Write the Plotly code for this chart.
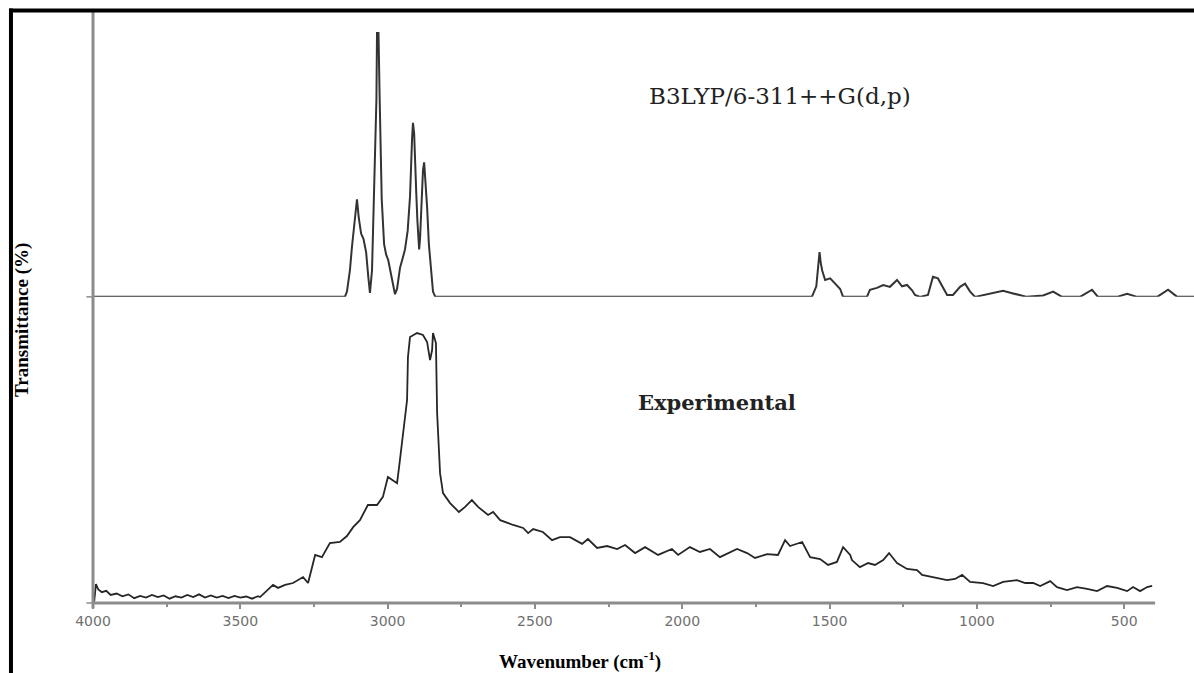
import plotly.graph_objects as go

# Calculated (B3LYP/6-311++G(d,p)) spectrum: wavenumber (cm-1) and relative intensity
calc_wn = [4000, 3160, 3145, 3138, 3128, 3121, 3112, 3104, 3098, 3090, 3082, 3073, 3066, 3060,
           3053, 3050, 3043, 3038, 3036, 3031, 3027, 3020, 3012, 3005, 2998, 2990, 2982, 2975,
           2968, 2958, 2948, 2941, 2932, 2924, 2917, 2914, 2910, 2907, 2903, 2899, 2893, 2890,
           2886, 2880, 2876, 2872, 2866, 2860, 2853, 2846, 2838,
           1560, 1545, 1539, 1534, 1530, 1525, 1515, 1498, 1481, 1464, 1454,
           1373, 1363, 1339, 1318, 1295, 1271, 1254, 1237, 1220, 1210, 1193,
           1166, 1149, 1132, 1115, 1101, 1081, 1057, 1040, 1023, 1006,
           945, 911, 877, 830, 775, 741, 711, 650, 609, 589, 524, 490, 456, 388, 351, 320, 263]
calc_int = [0, 0, 0, 2, 10, 19, 30, 37, 30, 24, 22, 17, 8, 1.5,
            10, 24, 55, 75, 100, 100, 75, 37, 20, 16, 14, 9, 4, 1,
            3, 11, 15, 18, 25, 38, 60, 66, 62, 55, 40, 29, 18, 22,
            34, 48, 51, 45, 34, 20, 9, 2, 0,
            0, 4, 11, 17, 13, 10, 6.4, 7, 5, 3, 0,
            0, 2.7, 3.4, 4.5, 3.8, 6.4, 4, 4.5, 2.5, 0.7, 0,
            0.7, 7.6, 7, 3.8, 0.7, 0.7, 3.8, 5, 2, 0,
            1.5, 2.3, 1.3, 0, 0.5, 2, 0, 0, 2.7, 0, 0, 1.2, 0, 0, 2.7, 0, 0]

# Experimental spectrum: wavenumber (cm-1) and relative transmittance
exp_wn = [3996, 3990, 3982, 3970, 3955, 3940, 3920, 3900, 3880, 3860, 3840, 3820, 3800, 3780,
          3760, 3740, 3720, 3700, 3680, 3660, 3640, 3620, 3600, 3580, 3560, 3540, 3520, 3500,
          3480, 3460, 3440, 3433, 3389, 3372, 3348, 3321, 3287, 3270, 3246, 3223, 3196, 3162,
          3138, 3117, 3094, 3067, 3036, 3016, 2999, 2982, 2968, 2961, 2951, 2941, 2934, 2931,
          2924, 2900, 2880, 2866, 2856, 2849, 2846, 2836, 2832, 2822, 2812, 2788, 2758, 2737,
          2714, 2693, 2659, 2642, 2618, 2574, 2540, 2523, 2506, 2473, 2442, 2415, 2381, 2340,
          2320, 2289, 2255, 2221, 2194, 2160, 2126, 2082, 2035, 2014, 1974, 1940, 1906, 1872,
          1814, 1780, 1753, 1712, 1675, 1651, 1634, 1593, 1566, 1532, 1505, 1475, 1454, 1430,
          1424, 1397, 1369, 1346, 1318, 1298, 1271, 1237, 1203, 1186, 1149, 1101, 1074, 1050,
          1023, 979, 945, 911, 864, 836, 809, 785, 751, 728, 694, 660, 626, 592, 558, 524,
          490, 470, 446, 422, 405]
exp_val = [0.5, 7, 5, 4, 4.5, 3, 3.5, 2.5, 3.2, 1.8, 2.6, 2, 3, 2.2,
           2.8, 1.6, 2.5, 2, 3, 2.2, 3.2, 2, 2.8, 2, 2.6, 1.8, 2.6, 2,
           2.4, 1.6, 2.5, 2.2, 6.7, 5.6, 6.7, 7.4, 9.6, 7.4, 17.8, 17, 22.2, 22.6,
           24.8, 28.1, 30.7, 36.3, 36.3, 39.3, 46.7, 45.6, 44.4, 50.4, 59.3, 66.7, 75.2, 91.1,
           98.5, 100, 99.3, 96.7, 90, 93.7, 100, 96.3, 70.4, 48.1, 40.7, 37, 33.7, 35.6,
           38.1, 35.6, 32.6, 33.7, 30.7, 28.9, 27.8, 25.9, 27.4, 26.3, 23.3, 24.4, 24.4, 21.9,
           23.7, 20.4, 21.1, 20, 21.5, 18.5, 20.7, 17.8, 20, 17.8, 20.7, 18.9, 20, 17,
           20, 18.5, 16.7, 18.1, 17.8, 23.3, 21.1, 22.6, 17, 16.3, 14.1, 15.2, 20.7, 17.8,
           15.9, 13.3, 14.8, 14.1, 15.9, 18.5, 14.8, 12.6, 12.2, 10.4, 9.6, 8.5, 8.9, 10.4,
           7.8, 7.4, 6.3, 7.8, 8.5, 7.4, 7.4, 6.3, 8.1, 5.9, 4.8, 5.9, 5.2, 4.4, 6.3, 5.6,
           4.4, 5.9, 4.4, 5.9, 6.3]

tick_vals = [4000, 3500, 3000, 2500, 2000, 1500, 1000, 500]
tick_text = ["4000", "3500", "3000", "2500", "2000", "1500", "1000", "500"]

fig = go.Figure()
fig.add_trace(go.Scatter(x=calc_wn, y=calc_int, mode="lines", yaxis="y2",
                         line=dict(color="#333333", width=2), showlegend=False))
fig.add_trace(go.Scatter(x=exp_wn, y=exp_val, mode="lines", yaxis="y",
                         line=dict(color="#262626", width=1.8), showlegend=False))

axis_gray = "#8c8c8c"
fig.update_layout(
    width=1194, height=673,
    margin=dict(l=93, r=0, t=12, b=70),
    paper_bgcolor="white", plot_bgcolor="white",
    xaxis=dict(range=[4000, 263], showgrid=False, zeroline=False, showline=False,
               tickvals=tick_vals, ticktext=tick_text, ticks="outside", ticklen=5,
               tickwidth=2, tickcolor=axis_gray,
               minor=dict(tickvals=[3750, 3250, 2750, 2250, 1750, 1250, 750],
                          ticks="outside", ticklen=3, tickwidth=2, tickcolor=axis_gray),
               tickfont=dict(family="DejaVu Sans", size=14, color="#707070")),
    yaxis=dict(domain=[0, 0.518], range=[0, 113.4], visible=False),
    yaxis2=dict(domain=[0.518, 1], range=[0, 108], visible=False, anchor="x"),
    shapes=[
        # x axis line
        dict(type="line", xref="x", yref="paper", x0=4000, x1=395, y0=0, y1=0,
             line=dict(color=axis_gray, width=3)),
        # y axis line
        dict(type="line", xref="paper", yref="paper", x0=0, x1=0, y0=-0.009, y1=1.0,
             line=dict(color=axis_gray, width=3)),
        # small ticks on y axis
        dict(type="line", xref="paper", yref="paper", x0=-0.006, x1=0, y0=0.518, y1=0.518,
             line=dict(color=axis_gray, width=1.5)),
        dict(type="line", xref="paper", yref="paper", x0=-0.006, x1=0, y0=0, y1=0,
             line=dict(color=axis_gray, width=1.5)),
        # black frame (left and top)
        dict(type="line", xref="paper", yref="paper", x0=-0.0745, x1=-0.0745, y0=-0.13, y1=1.006,
             line=dict(color="black", width=4)),
        dict(type="line", xref="paper", yref="paper", x0=-0.0763, x1=1.01, y0=1.0025, y1=1.0025,
             line=dict(color="black", width=4)),
    ],
    annotations=[
        dict(text="B3LYP/6-311++G(d,p)", xref="paper", yref="paper", x=0.624, y=0.858,
             showarrow=False, xanchor="center", yanchor="middle",
             font=dict(family="DejaVu Serif", size=23, color="#222222")),
        dict(text="<b>Experimental</b>", xref="paper", yref="paper", x=0.567, y=0.34,
             showarrow=False, xanchor="center", yanchor="middle",
             font=dict(family="DejaVu Serif", size=21, color="#222222")),
        dict(text="<b>Wavenumber (cm<sup>-1</sup>)</b>", xref="paper", yref="paper",
             x=0.442, y=-0.097, showarrow=False, xanchor="center", yanchor="middle",
             font=dict(family="Liberation Serif", size=19, color="black")),
        dict(text="<b>Transmittance (%)</b>", xref="paper", yref="paper", textangle=-90,
             x=-0.0645, y=0.479, showarrow=False, xanchor="center", yanchor="middle",
             font=dict(family="Liberation Serif", size=19, color="black")),
    ],
)

fig.write_html("out.html", config={"displayModeBar": False},
               post_script="document.body.style.margin='0px';document.body.style.padding='0px';")
